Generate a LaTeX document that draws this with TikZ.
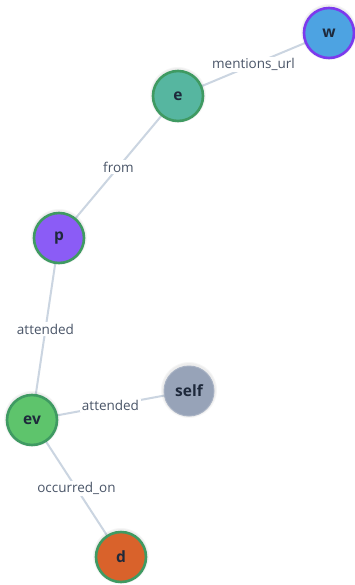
\documentclass[tikz,border=0pt]{standalone}
\usepackage{fontspec}
\setmainfont{Open Sans}
\definecolor{edgec}{HTML}{CBD5E1}
\definecolor{labc}{HTML}{4A5568}
\definecolor{txtc}{HTML}{1E293B}
\definecolor{gborder}{HTML}{3F9A62}
\definecolor{wfill}{HTML}{4DA3E2}
\definecolor{wborder}{HTML}{7C3AED}
\definecolor{efill}{HTML}{56B6A0}
\definecolor{pfill}{HTML}{8B5CF6}
\definecolor{evfill}{HTML}{5EC46C}
\definecolor{selffill}{HTML}{97A3B8}
\definecolor{dfill}{HTML}{D9622B}
\tikzset{
  gnode/.style={circle, minimum size=50pt, inner sep=0pt, line width=2.6pt, draw=gborder,
    font=\fontsize{15.5}{15.5}\selectfont\bfseries, text=txtc},
  elabel/.style={fill=white, inner sep=1.5pt, font=\fontsize{13.5}{13.5}\selectfont, text=labc},
  edge/.style={draw=edgec, line width=2pt},
  halo/.style={fill=black, fill opacity=0.035, draw=none}
}
\begin{document}
\begin{tikzpicture}[x=1pt, y=-1pt]
\useasboundingbox[fill=white] (0,0) rectangle (355,585);
\coordinate (cw) at (329,33);
\coordinate (ce) at (178,96);
\coordinate (cp) at (59,238);
\coordinate (cev) at (32,420);
\coordinate (cself) at (189,391);
\coordinate (cd) at (121,557);
\draw[edge] (cw) -- node[elabel]{mentions\_url} (ce);
\draw[edge] (ce) -- node[elabel]{from} (cp);
\draw[edge] (cp) -- node[elabel]{attended} (cev);
\draw[edge] (cev) -- node[elabel]{attended} (cself);
\draw[edge] (cev) -- node[elabel]{occurred\_on} (cd);
\foreach \c in {cw,ce,cp,cev,cself,cd}{
  \fill[halo] ([yshift=1pt]\c) circle (28pt);
  \fill[halo] ([yshift=1pt]\c) circle (27pt);
}
\node[gnode, fill=wfill, draw=wborder] (w) at (cw) {w};
\node[gnode, fill=efill] (e) at (ce) {e};
\node[gnode, fill=pfill] (p) at (cp) {p};
\node[gnode, fill=evfill] (ev) at (cev) {ev};
\node[gnode, fill=selffill, draw=selffill!85!white, line width=1pt, minimum size=50pt] (self) at (cself) {self};
\node[gnode, fill=dfill] (d) at (cd) {d};
\end{tikzpicture}
\end{document}
